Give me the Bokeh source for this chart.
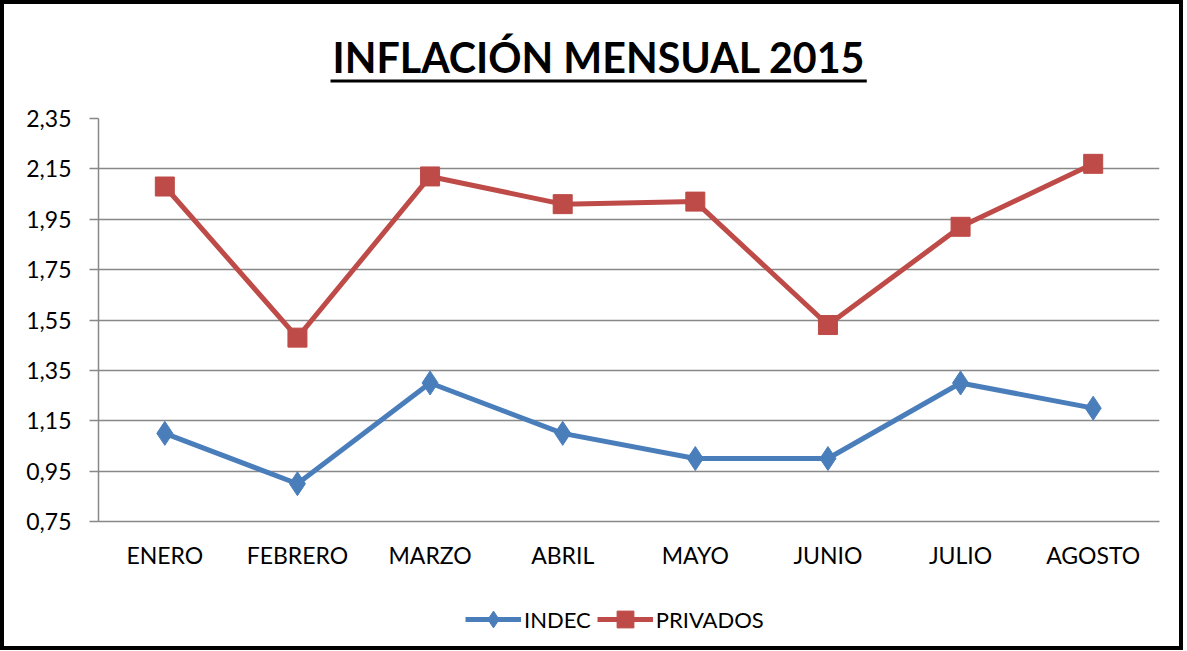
from bokeh.plotting import figure
from bokeh.layouts import column
from bokeh.models import (FactorRange, Range1d, FixedTicker, Legend, LegendItem,
                          Title)
from bokeh.embed import file_html
from bokeh.resources import INLINE

months = ["ENERO", "FEBRERO", "MARZO", "ABRIL", "MAYO", "JUNIO", "JULIO", "AGOSTO"]
indec = [1.10, 0.90, 1.30, 1.10, 1.00, 1.00, 1.30, 1.20]
privados = [2.08, 1.48, 2.12, 2.01, 2.02, 1.53, 1.92, 2.17]
y_ticks = [0.75, 0.95, 1.15, 1.35, 1.55, 1.75, 1.95, 2.15, 2.35]
y_labels = ["0,75", "0,95", "1,15", "1,35", "1,55", "1,75", "1,95", "2,15", "2,35"]

FONT = "Lato"
BLUE = "#4A7EBB"
RED = "#BE4B48"
GRID = "#888888"

p = figure(x_range=FactorRange(*months), y_range=Range1d(0.75, 2.35),
           frame_width=1061, frame_height=403, title=None,
           output_backend="svg", toolbar_location=None,
           min_border_left=94, min_border_right=20, min_border_top=114,
           min_border_bottom=56)

# underline of the title (a background bar)
ul = Title(text="\u00a0", align="left", offset=232, text_font_size="1px",
           background_fill_color="black", background_fill_alpha=1,
           padding=(268, 1), standoff=72)
p.add_layout(ul, "above")
t = Title(text="INFLACIÓN MENSUAL 2015", align="left", text_font=FONT,
          text_font_size="41.2px", text_font_style="bold", text_color="black",
          standoff=-80, offset=234)
p.add_layout(t, "above")

p.outline_line_color = None
p.xgrid.grid_line_color = None
p.ygrid.grid_line_color = GRID
p.ygrid.grid_line_width = 1.5
p.yaxis.ticker = FixedTicker(ticks=y_ticks)
p.yaxis.major_label_overrides = {v: s for v, s in zip(y_ticks, y_labels)}
for ax in (p.xaxis, p.yaxis):
    ax.axis_line_color = GRID
    ax.axis_line_width = 1.5
    ax.major_label_text_font = FONT
    ax.major_label_text_font_size = "23px"
    ax.major_label_text_color = "black"
    ax.minor_tick_line_color = None
p.yaxis.major_tick_line_color = GRID
p.yaxis.major_tick_line_width = 1.5
p.yaxis.major_tick_in = 0
p.yaxis.major_tick_out = 9
p.yaxis.major_label_standoff = 18
p.xaxis.major_tick_line_color = None
p.xaxis.major_label_standoff = 13

p.line(months, indec, line_color=BLUE, line_width=5)
p.scatter(months, indec, marker="diamond", size=24, fill_color=BLUE,
          line_color=BLUE)
p.line(months, privados, line_color=RED, line_width=5)
p.scatter(months, privados, marker="square", size=19, fill_color=RED,
          line_color=RED)

# legend strip below the chart (proxy renderers lie outside its visible range)
q = figure(width=1175, height=69, output_backend="svg", toolbar_location=None,
           min_border=0, title=None, x_range=Range1d(0, 1), y_range=Range1d(0, 1))
q.axis.visible = False
q.grid.visible = False
q.outline_line_color = None
k1 = q.line([-5, -4], [-5, -5], line_color=BLUE, line_width=5)
m1 = q.scatter([-5], [-5], marker="diamond", size=24, fill_color=BLUE, line_color=BLUE)
k2 = q.line([-5, -4], [-5, -5], line_color=RED, line_width=5)
m2 = q.scatter([-5], [-5], marker="square", size=19, fill_color=RED, line_color=RED)

legend = Legend(items=[LegendItem(label="INDEC", renderers=[k1, m1]),
                       LegendItem(label="PRIVADOS", renderers=[k2, m2])],
                orientation="horizontal", location=(367, 6),
                label_text_font=FONT, label_text_font_size="22px",
                label_text_color="black",
                glyph_width=56, glyph_height=42, label_standoff=3, spacing=6,
                border_line_color=None, background_fill_alpha=0, margin=0,
                padding=0)
q.add_layout(legend, "center")

layout = column(p, q, spacing=0, styles={"border": "4px solid black"})

open("out.html", "w").write(file_html(layout, INLINE))
